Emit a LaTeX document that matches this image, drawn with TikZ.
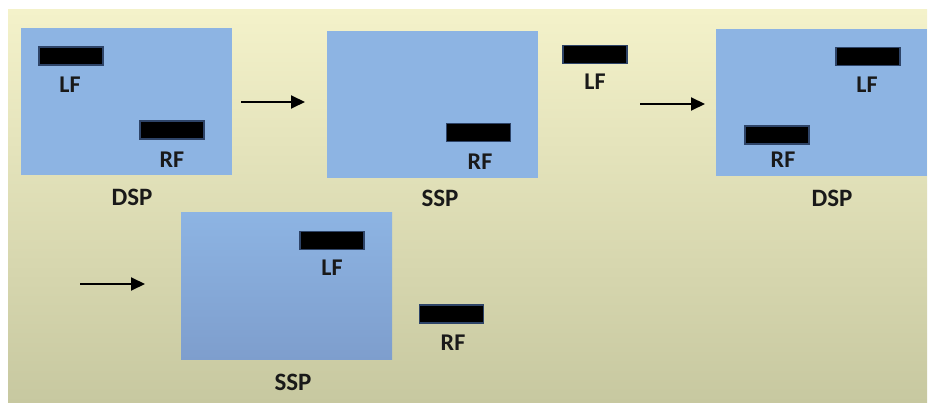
\documentclass[tikz,border=0pt]{standalone}
\usepackage{fontspec}
\setmainfont{Carlito}
\usetikzlibrary{arrows.meta}

\definecolor{bgtop}{HTML}{F4F2CA}
\definecolor{bgbot}{HTML}{C7C8A0}
\definecolor{pnl}{HTML}{8DB4E3}
\definecolor{pnldark}{HTML}{7E9ECD}
\definecolor{barline}{HTML}{2E4468}

\tikzset{
  panel/.style={rectangle, inner sep=0pt, minimum width=211, minimum height=147},
  foot/.style={rectangle, fill=black, draw=barline, line width=1.8pt,
    inner sep=0pt, minimum width=64, minimum height=18},
  lbl/.style={font=\bfseries\fontsize{24}{26}\selectfont, text=black!90, inner sep=0pt},
  stage/.style={font=\bfseries\fontsize{25}{28}\selectfont, text=black!90, inner sep=0pt},
  nextarrow/.style={line width=2pt, -{Triangle[length=14pt, width=13pt]}}
}

\begin{document}
\begin{tikzpicture}[x=1pt, y=-1pt]
  \useasboundingbox[fill=white] (0,0) rectangle (930,403);
  \shade[top color=bgtop, bottom color=bgbot] (8,10) rectangle (927,403);

  % stage 1: DSP
  \node[panel, fill=pnl] (p1) at (126,102) {};
  \node[foot] (p1lf) at (71,56) {};
  \node[lbl] (p1lft) at (70,85) {LF};
  \node[foot] (p1rf) at (172,130) {};
  \node[lbl] (p1rft) at (172,160) {RF};
  \node[stage] (p1t) at (132,197) {DSP};

  % stage 2: SSP
  \node[panel, fill=pnl] (p2) at (432,104.5) {};
  \node[foot] (p2rf) at (478.5,132.5) {};
  \node[lbl] (p2rft) at (480,162) {RF};
  \node[foot] (p2lf) at (595,54.5) {};
  \node[lbl] (p2lft) at (595,82) {LF};
  \node[stage] (p2t) at (440,198) {SSP};

  % stage 3: DSP
  \node[panel, fill=pnl] (p3) at (821,102.5) {};
  \node[foot] (p3lf) at (868,56.5) {};
  \node[lbl] (p3lft) at (867,85) {LF};
  \node[foot] (p3rf) at (777,135) {};
  \node[lbl] (p3rft) at (783,160) {RF};
  \node[stage] (p3t) at (832,198) {DSP};

  % stage 4: SSP
  \node[panel, top color=pnl, bottom color=pnldark] (p4) at (286.5,286) {};
  \node[foot] (p4lf) at (332,240.5) {};
  \node[lbl] (p4lft) at (332,268) {LF};
  \node[foot] (p4rf) at (451.5,314) {};
  \node[lbl] (p4rft) at (453,343) {RF};
  \node[stage] (p4t) at (293,382) {SSP};

  % arrows between stages
  \coordinate (a1s) at (241,102); \coordinate (a1e) at (305,102);
  \coordinate (a2s) at (640,104); \coordinate (a2e) at (705,104);
  \coordinate (a3s) at (80,284);  \coordinate (a3e) at (145,284);
  \draw[nextarrow] (a1s) -- (a1e);
  \draw[nextarrow] (a2s) -- (a2e);
  \draw[nextarrow] (a3s) -- (a3e);
\end{tikzpicture}
\end{document}
